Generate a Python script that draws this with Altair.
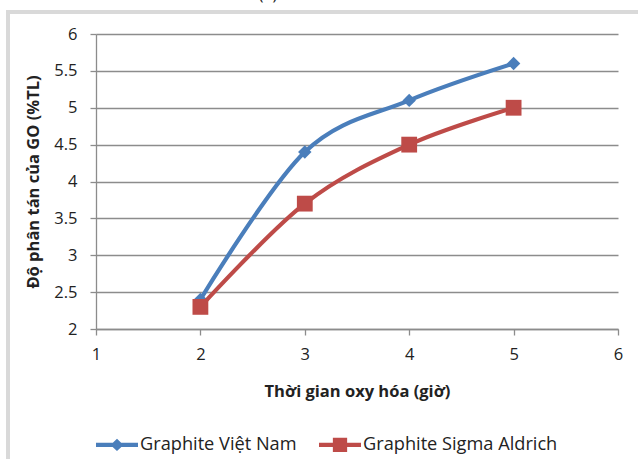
import altair as alt
import pandas as pd

# ---- data ----
hours = [2, 3, 4, 5]
vn_values = [2.4, 4.4, 5.1, 5.6]
sigma_values = [2.3, 3.7, 4.5, 5.0]
series_names = ["Graphite Việt Nam", "Graphite Sigma Aldrich"]
series_colors = ["#4A7EBB", "#BE4B48"]
x_ticks = [1, 2, 3, 4, 5, 6]
y_ticks = [2, 2.5, 3, 3.5, 4, 4.5, 5, 5.5, 6]
x_title = "Thời gian oxy hóa (giờ)"
y_title = "Độ phân tán của GO (%TL)"
panel_label = "(a)"

rows = []
for h, v in zip(hours, vn_values):
    rows.append({"t": h, "v": v, "s": series_names[0]})
for h, v in zip(hours, sigma_values):
    rows.append({"t": h, "v": v, "s": series_names[1]})
df = pd.DataFrame(rows)

FONT = "Open Sans"
GRID = "#8C8C8C"

PLOT_W, PLOT_H = 522, 295

x_enc = alt.X(
    "t:Q",
    scale=alt.Scale(domain=[1, 6], nice=False, zero=False),
    axis=alt.Axis(values=x_ticks, title=x_title, grid=False, tickSize=6,
                  labelPadding=11, titlePadding=21, format="d", labelFlush=False),
)
y_enc = alt.Y(
    "v:Q",
    scale=alt.Scale(domain=[2, 6], nice=False, zero=False),
    axis=alt.Axis(values=y_ticks, title=y_title, grid=True, tickSize=6,
                  labelPadding=13, titlePadding=12, format="~g", labelFlush=False),
)

# legend symbols: line segment with marker, unit box [-1, 1]
line_path_vn = "M-1,-0.1H1V0.1H-1Z M0,-0.29L0.31,0L0,0.29L-0.31,0Z"
line_path_sg = "M-1,-0.1H1V0.1H-1Z M-0.34,-0.34H0.34V0.34H-0.34Z"

legend = alt.Legend(
    title=None,
    orient="none",
    legendX=0,
    legendY=389.5,
    direction="horizontal",
    columns=2,
    padding=0,
    symbolSize=1764,
    symbolStrokeWidth=0,
    symbolOpacity=1,
    labelFontSize=18.2,
    labelFont=FONT,
    labelColor="#222222",
    labelOffset=2,
    labelLimit=400,
    columnPadding=22,
)

base = alt.Chart(df)

layers = []
shapes = ["diamond", "square"]
sizes = [180, 250]
for name, col, shape, size in zip(series_names, series_colors, shapes, sizes):
    layers.append(
        base.transform_filter(alt.datum.s == name)
        .mark_line(interpolate="cardinal", tension=0, strokeWidth=4.2, color=col)
        .encode(x=x_enc, y=y_enc)
    )
    layers.append(
        base.transform_filter(alt.datum.s == name)
        .mark_point(shape=shape, size=size, filled=True, opacity=1, color=col)
        .encode(x=x_enc, y=y_enc)
    )

legend_layer = base.mark_point(filled=True, opacity=0, size=1764).encode(
    x=x_enc,
    y=y_enc,
    color=alt.Color("s:N", scale=alt.Scale(domain=series_names, range=series_colors), legend=legend),
    shape=alt.Shape("s:N", scale=alt.Scale(domain=series_names, range=[line_path_vn, line_path_sg]), legend=legend),
)

frame = alt.Chart(pd.DataFrame({"k": [0]})).mark_rect(
    filled=False, stroke="#D9D9D9", strokeWidth=4
).encode(
    x=alt.value(-88), x2=alt.value(620), y=alt.value(-22), y2=alt.value(460)
)

label = alt.Chart(pd.DataFrame({"k": [panel_label]})).mark_text(
    font=FONT, fontSize=16, baseline="alphabetic", align="center", color="#222222"
).encode(
    text="k:N", x=alt.value(172), y=alt.value(-34.5)
)

chart = alt.layer(frame, legend_layer, *layers, label).properties(
    width=PLOT_W,
    height=PLOT_H,
    autosize=alt.AutoSizeParams(type="none"),
    padding={"left": 96, "top": 34, "right": 20, "bottom": 130},
    background="white",
).configure_view(
    stroke=None
).configure_axis(
    labelFont=FONT,
    titleFont=FONT,
    labelFontSize=16.5,
    titleFontSize=16.5,
    titleFontWeight="bold",
    labelColor="#222222",
    titleColor="#222222",
    domainColor=GRID,
    tickColor=GRID,
    gridColor=GRID,
    domainWidth=1.3,
    tickWidth=1.3,
    gridWidth=1.3,
)

chart.save("out.html", embed_options={"renderer": "svg", "actions": False})
